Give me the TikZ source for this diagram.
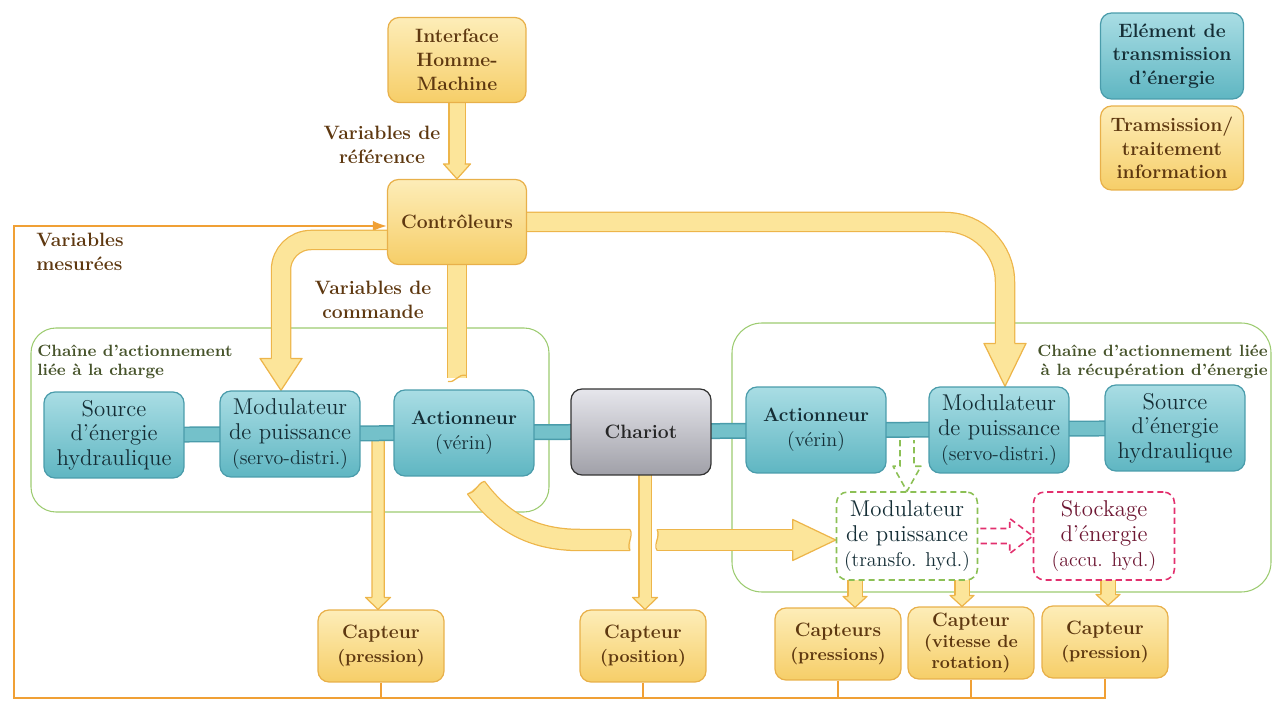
\documentclass[tikz,border=0pt]{standalone}
\usepackage{fontspec}
\usetikzlibrary{calc,arrows.meta}
\pgfdeclarelayer{back}\pgfdeclarelayer{mid}\pgfdeclarelayer{bars}
\pgfsetlayers{back,mid,bars,main}

\definecolor{infotop}{HTML}{FDEDB8}
\definecolor{infobot}{HTML}{F6CE68}
\definecolor{infoborder}{HTML}{E8B04A}
\definecolor{infotext}{HTML}{5E3810}
\definecolor{entop}{HTML}{A9DDE4}
\definecolor{enbot}{HTML}{5FB6C2}
\definecolor{enborder}{HTML}{4A9CAB}
\definecolor{entext}{HTML}{152E36}
\definecolor{chtop}{HTML}{E6E6EC}
\definecolor{chbot}{HTML}{A0A0A8}
\definecolor{arrF}{HTML}{FCE59A}
\definecolor{arrB}{HTML}{EDB54A}
\definecolor{lineor}{HTML}{F0A035}
\definecolor{chaincol}{HTML}{9CCB70}
\definecolor{chaintext}{HTML}{46532A}
\definecolor{dashgreen}{HTML}{8CC055}
\definecolor{dashpink}{HTML}{E2306E}
\definecolor{stocktext}{HTML}{6E1733}
\definecolor{barF}{HTML}{74C1CA}

\newcommand{\subtxt}[1]{{\fontsize{11.4}{14}\selectfont#1}}
\newcommand{\bfline}[1]{{\fontsize{11}{14}\selectfont\bfseries#1}}
\newcommand{\capsub}[1]{{\fontsize{10}{12}\selectfont#1}}

\tikzset{
  box/.style={rounded corners=0.22cm, align=center, inner sep=1pt, line width=0.7pt},
  info/.style={box, draw=infoborder, top color=infotop, bottom color=infobot,
    text=infotext, font=\fontsize{11}{13.5}\selectfont\bfseries},
  energy/.style={box, draw=enborder, top color=entop, bottom color=enbot,
    text=entext, font=\fontsize{13}{14}\selectfont, minimum width=2.8cm, minimum height=1.72cm},
  chariotbox/.style={box, draw=black!80, top color=chtop, bottom color=chbot,
    text=black!85, font=\fontsize{11}{13}\selectfont\bfseries, minimum width=2.8cm, minimum height=1.72cm},
  capt/.style={info, minimum width=2.52cm, minimum height=1.44cm},
  lbl/.style={font=\fontsize{11}{13.5}\selectfont\bfseries, text=infotext, align=center, inner sep=0pt},
  chainlbl/.style={font=\fontsize{9.3}{11}\selectfont\bfseries, text=chaintext, inner sep=0pt},
  chainbox/.style={draw=chaincol, line width=0.6pt},
  fat/.style 2 args={draw=arrF, line width=#1, preaction={draw=arrB, line width=#2}},
  bar/.style={draw=barF, line width=0.26cm, preaction={draw=enborder, line width=0.32cm}},
  fb/.style={draw=lineor, line width=1.2pt},
  wave/.style={draw=arrB, line width=0.7pt},
  dgreen/.style={draw=dashgreen, line width=0.9pt, dash pattern=on 3.5pt off 2.2pt},
  dpink/.style={draw=dashpink, line width=0.9pt, dash pattern=on 3.5pt off 2.2pt},
  pics/ahead/.style args={#1/#2/#3}{code={
    \fill[arrF] (-#3,-#1) -- (-#3,-#2) -- (0,0) -- (-#3,#2) -- (-#3,#1) -- cycle;
    \draw[arrB, line width=0.7pt, line join=round] (-#3,-#1) -- (-#3,-#2) -- (0,0) -- (-#3,#2) -- (-#3,#1);
  }}
}

\begin{document}
\begin{tikzpicture}[x=0.02cm, y=-0.02cm]
\useasboundingbox (0,0) rectangle (1272,702);

% ---- information nodes
\node[info, minimum width=2.76cm, minimum height=1.7cm] (ihm) at (457,60) {Interface\\Homme-\\Machine};
\node[info, minimum width=2.78cm, minimum height=1.7cm] (ctrl) at (457,222) {Contrôleurs};

% ---- legend
\node[energy, font=\fontsize{11}{13.5}\selectfont\bfseries, minimum width=2.86cm, minimum height=1.72cm] (legE) at (1172,56) {Elément de\\transmission\\d'énergie};
\node[info, minimum width=2.86cm, minimum height=1.68cm] (legI) at (1172,148) {Tramsission/\\traitement\\information};

% ---- labels
\node[lbl] (vref) at (382,145) {Variables de\\référence};
\node[lbl, anchor=west, align=left] (vmes) at (36,252) {Variables\\mesurées};
\node[lbl] (vcmd) at (373,300) {Variables de\\commande};
\node[chainlbl, anchor=west, align=left] (chL) at (37,362) {Chaîne d'actionnement\\liée à la charge};
\node[chainlbl, anchor=east, align=right] (chR) at (1268,362) {Chaîne d'actionnement liée\\à la récupération d'énergie};

% ---- energy chain
\node[energy] (srcL) at (114,435) {Source\\d'énergie\\hydraulique};
\node[energy] (modL) at (290,434) {Modulateur\\de puissance\\\subtxt{(servo-distri.)}};
\node[energy] (actL) at (464,433) {\bfline{Actionneur}\\\subtxt{(vérin)}};
\node[chariotbox] (chariot) at (641,432) {Chariot};
\node[energy] (actR) at (816,430) {\bfline{Actionneur}\\\subtxt{(vérin)}};
\node[energy] (modR) at (999,430) {Modulateur\\de puissance\\\subtxt{(servo-distri.)}};
\node[energy] (srcR) at (1175,428) {Source\\d'énergie\\hydraulique};

\node[box, draw=dashgreen, dash pattern=on 3.5pt off 2.2pt, line width=0.9pt, fill=white, text=entext,
  font=\fontsize{13}{14}\selectfont, minimum width=2.82cm, minimum height=1.76cm] (transfo) at (907,536)
  {Modulateur\\de puissance\\\subtxt{(transfo. hyd.)}};
\node[box, draw=dashpink, dash pattern=on 3.5pt off 2.2pt, line width=0.9pt, fill=white, text=stocktext,
  font=\fontsize{13}{14}\selectfont, minimum width=2.82cm, minimum height=1.76cm] (stock) at (1104,536)
  {Stockage\\d'énergie\\\subtxt{(accu. hyd.)}};

% ---- sensors
\node[capt] (capL) at (381,646) {Capteur\\\capsub{(pression)}};
\node[capt] (capPos) at (643,646) {Capteur\\\capsub{(position)}};
\node[capt] (capPs) at (838,644) {Capteurs\\\capsub{(pressions)}};
\node[capt, font=\fontsize{11}{12.2}\selectfont\bfseries] (capVit) at (971,643) {Capteur\\\capsub{(vitesse de}\\\capsub{rotation)}};
\node[capt] (capPr) at (1105,642) {Capteur\\\capsub{(pression)}};

% ---- chain frames
\begin{pgfonlayer}{back}
\draw[chainbox, rounded corners=0.5cm] (31,328) rectangle (549,512);
\draw[chainbox, rounded corners=0.6cm] (732,323) rectangle (1271,592);
\end{pgfonlayer}

% ---- energy bar
\begin{pgfonlayer}{bars}
\draw[bar] (srcL.center) -- (srcR.center);
\end{pgfonlayer}

% ---- information flows
\begin{pgfonlayer}{mid}
% feedback line
\coordinate (bl) at (14,698);
\draw[fb, -{Latex[length=8pt,width=6pt]}] (capPr.south) |- (bl) |- ($(ctrl.west)+(0,4)$);
\draw[fb] (capL.south) -- (capL.south |- bl);
\draw[fb] (capPos.south) -- (capPos.south |- bl);
\draw[fb] (capPs.south) -- (capPs.south |- bl);
\draw[fb] (capVit.south) -- (capVit.south |- bl);

% IHM -> controleurs
\draw[fat={0.3cm}{0.35cm}] (ihm.center) -- ($(ctrl.north)+(0,-13)$);
\pic[rotate=-90] at (ctrl.north) {ahead=7.5/13.5/15};

% controleurs -> modulateur gauche
\draw[fat={0.36cm}{0.41cm}, rounded corners=0.6cm] ($(ctrl.center)+(0,18)$) -- (281,240) -- ($(modL.north)+(-9,-30)$);
\pic[rotate=-90] at ($(modL.north)+(-9,0)$) {ahead=9.5/21/32};

% controleurs -> modulateur droit
\draw[fat={0.36cm}{0.41cm}, rounded corners=1.2cm] (ctrl.center) -- (1005,222) -- ($(modR.north)+(6,-41)$);
\pic[rotate=-90] at ($(modR.north)+(6,0)$) {ahead=9.5/21/43};

% controleurs -> actionneur (torn end)
\coordinate (e1) at ($(actL.north)+(-7,-11)$);
\draw[fat={0.36cm}{0.41cm}] (ctrl.center) -- (e1);
\draw[wave] ($(e1)+(-9,3)$) .. controls ($(e1)+(-2,5)$) and ($(e1)+(1,-5)$) .. ($(e1)+(9,-3)$);

% actionneur -> modulateur transfo (curved, passing behind position)
\coordinate (tA) at ($(actL.south)+(12,11)$);
\coordinate (eA) at (630,540);
\coordinate (sB) at (657,540);
\draw[fat={0.40cm}{0.45cm}] (tA) .. controls (500,520) and (530,540) .. (580,540) -- (eA);
\draw[wave] ($(tA)+(-8.5,6.2)$) .. controls ($(tA)+(0.9,4.5)$) and ($(tA)+(1.1,-4.5)$) .. ($(tA)+(8.5,-6.2)$);
\draw[wave] ($(eA)+(0,-10.5)$) .. controls ($(eA)+(4,-4)$) and ($(eA)+(-4,4)$) .. ($(eA)+(0,10.5)$);
\draw[fat={0.40cm}{0.45cm}] (sB) -- ($(transfo.west)+(-41,4)$);
\draw[wave] ($(sB)+(0,-10.5)$) .. controls ($(sB)+(4,-4)$) and ($(sB)+(-4,4)$) .. ($(sB)+(0,10.5)$);
\pic at ($(transfo.west)+(0,4)$) {ahead=10.5/20.5/43};

% bar -> capteur pression (gauche)
\coordinate (tapL) at ($(modL.east)!0.5!(actL.west)$);
\draw[fat={0.22cm}{0.27cm}] ($(tapL)+(1,0)$) -- ($(capL.north)+(-3,-10)$);
\pic[rotate=-90] at ($(capL.north)+(-3,0)$) {ahead=6/12.5/12};

% chariot -> capteur position
\draw[fat={0.22cm}{0.27cm}] ($(chariot.center)+(4,0)$) -- ($(capPos.north)+(2,-10)$);
\pic[rotate=-90] at ($(capPos.north)+(2,0)$) {ahead=6/12.5/12};

% transfo / stockage -> capteurs
\draw[fat={0.26cm}{0.31cm}] ($(transfo.south)+(-52,-4)$) -- ($(capPs.north)+(17,-9)$);
\pic[rotate=-90] at ($(capPs.north)+(17,0)$) {ahead=7/12/11};
\draw[fat={0.26cm}{0.31cm}] ($(transfo.south)+(55,-4)$) -- ($(capVit.north)+(-9,-9)$);
\pic[rotate=-90] at ($(capVit.north)+(-9,0)$) {ahead=7/12/11};
\draw[fat={0.26cm}{0.31cm}] ($(stock.south)+(4,-4)$) -- ($(capPr.north)+(3,-9)$);
\pic[rotate=-90] at ($(capPr.north)+(3,0)$) {ahead=7/12/11};
\end{pgfonlayer}

% ---- dashed energy arrows
\draw[dgreen, line join=round] ($(transfo.north)+(-7,-51)$) -- ++(0,26) -- ++(-7,0) -- (transfo.north)
  -- ($(transfo.north)+(14,-25)$) -- ++(-7,0) -- ++(0,-26);
\draw[dpink, line join=round] ($(transfo.east)+(2,-7.5)$) -- ($(stock.west)+(-23,-7.5)$) -- ++(0,-10) -- (stock.west)
  -- ($(stock.west)+(-23,17.5)$) -- ++(0,-10) -- ($(transfo.east)+(2,7.5)$);
\end{tikzpicture}
\end{document}
